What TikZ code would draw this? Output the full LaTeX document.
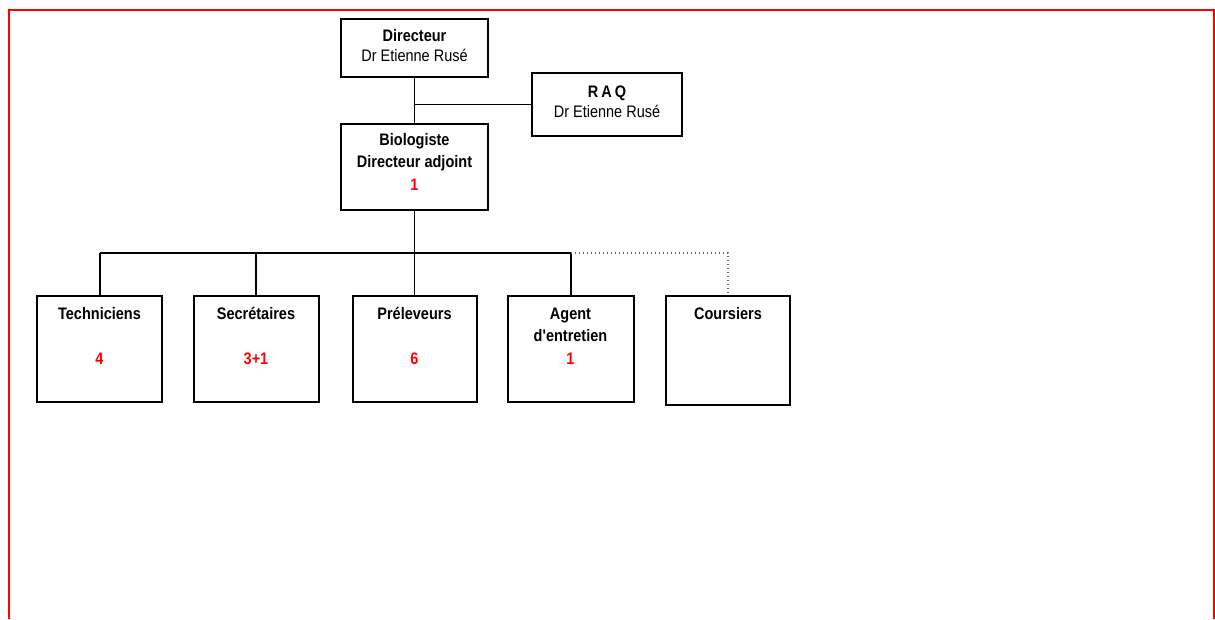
\documentclass[tikz,border=0pt]{standalone}
\usepackage{fontspec}
\setmainfont{Liberation Sans}
\usetikzlibrary{shadows}
\newcommand\stx[1]{\scalebox{1}[1.15]{#1}}
\definecolor{numred}{RGB}{255,0,0}
\tikzset{
  box/.style={draw, line width=2pt, fill=white, inner sep=0pt,
    drop shadow={shadow xshift=1.3pt, shadow yshift=-1.3pt, fill=black!55, opacity=1}},
  lbl/.style={anchor=base, inner sep=0pt, font=\fontsize{14.5}{18}\selectfont\bfseries},
  lblr/.style={anchor=base, inner sep=0pt, font=\fontsize{14.5}{18}\selectfont},
  num/.style={lbl, text=numred},
  link/.style={line width=2pt},
  mid link/.style={line width=1.6pt},
  thin link/.style={line width=1.2pt},
  dot link/.style={line width=1.2pt, black!60, dash pattern=on 1.5pt off 2.5pt}
}
\begin{document}
\begin{tikzpicture}[x=1pt,y=-1pt]
\useasboundingbox (0,0) rectangle (1215,619);
\draw[numred, line width=2pt] (8.5,619) -- (8.5,9.5) -- (1214,9.5) -- (1214,619);
\coordinate (bar) at (414.5,253);
% boxes
\node[box, minimum width=147pt, minimum height=58pt] (dir) at (414.5,47.5) {};
\node[box, minimum width=150pt, minimum height=63pt] (raq) at (607,104.5) {};
\node[box, minimum width=147pt, minimum height=86pt] (bio) at (414.5,167) {};
\node[box, minimum width=125pt, minimum height=106pt] (tech) at (99.5,349) {};
\node[box, minimum width=125pt, minimum height=106pt] (sec) at (256,349) {};
\node[box, minimum width=124pt, minimum height=106pt] (prel) at (414.5,349) {};
\node[box, minimum width=126pt, minimum height=106pt] (agent) at (570.5,349) {};
\node[box, minimum width=124pt, minimum height=109pt] (cour) at (728,350.5) {};
% connectors
\draw[mid link] (dir.south) -- (bio.north);
\draw[thin link] (raq.west) -- (raq.west -| dir.south);
\draw[link] (tech.north |- bar) -- (agent.north |- bar);
\draw[thin link] (bio.south) -- (prel.north);
\draw[link] (tech.north) -- (tech.north |- bar);
\draw[link] (sec.north) -- (sec.north |- bar);
\draw[link] (agent.north) -- (agent.north |- bar);
\draw[dot link] (agent.north |- bar) -- (cour.north |- bar) -- (cour.north);
% texts
\node[lbl] (t1) at (414.5,41) {\stx{Directeur}};
\node[lblr] (t2) at (414.5,61) {\stx{Dr Etienne Rusé}};
\node[lbl] (t3) at (607,97) {\stx{R\kern3ptA\kern3ptQ}};
\node[lblr] (t4) at (607,117) {\stx{Dr Etienne Rusé}};
\node[lbl] (t5) at (414.5,145) {\stx{Biologiste}};
\node[lbl] (t6) at (414.5,167) {\stx{Directeur adjoint}};
\node[num] (t7) at (414.5,190) {\stx{1}};
\node[lbl] (t8) at (99.5,319) {\stx{Techniciens}};
\node[num] (t9) at (99.5,364) {\stx{4}};
\node[lbl] (t10) at (256,319) {\stx{Secrétaires}};
\node[num] (t11) at (256,364) {\stx{3+1}};
\node[lbl] (t12) at (414.5,319) {\stx{Préleveurs}};
\node[num] (t13) at (414.5,364) {\stx{6}};
\node[lbl] (t14) at (570.5,319) {\stx{Agent}};
\node[lbl] (t15) at (570.5,341) {\stx{d\textquotesingle entretien}};
\node[num] (t16) at (570.5,364) {\stx{1}};
\node[lbl] (t17) at (728,319) {\stx{Coursiers}};
\end{tikzpicture}
\end{document}
